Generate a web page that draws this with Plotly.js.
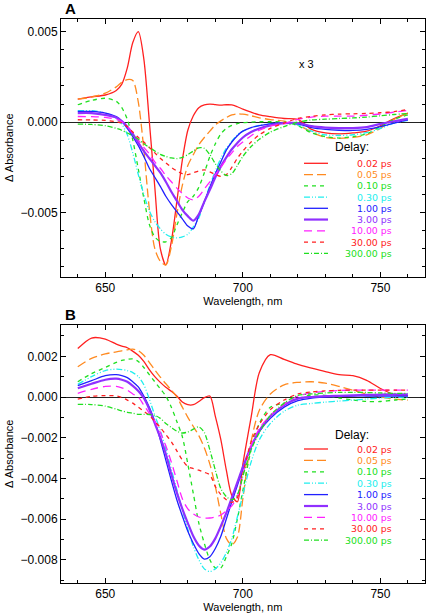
<!DOCTYPE html>
<html><head><meta charset="utf-8">
<script src="https://cdn.plot.ly/plotly-3.0.1.min.js"></script>
<style>html,body{margin:0;padding:0;background:#fff}#chart{width:428px;height:616px}</style>
</head><body><div id="chart"></div>
<script>
// ---------- DATA (ΔA in units of 0.001) ----------
const wavelength = [640,645,650,654,656,658,660,662,664,666,668,670,672,674,676,678,680,682,684,686,688,690,692,694,696,698,700,703,706,710,715,720,725,730,735,740,745,750,755,760];
const delayLabels = ['0.02','0.05','0.10','0.30','1.00','3.00','10.00','30.00','300.00'];

// Panel A
const panelA_0p02  = [1.27,1.40,1.50,1.75,2.10,3.00,4.40,5.00,3.50,0.05,-3.60,-7.00,-7.90,-6.60,-4.40,-2.10,-0.45,0.35,0.80,0.95,1.00,0.97,0.94,0.96,0.95,0.85,0.72,0.55,0.40,0.30,0.20,0.15,-0.40,-0.60,-0.65,-0.60,-0.50,-0.20,0.20,0.50];
const panelA_0p05  = [1.27,1.38,1.60,1.95,2.20,2.35,2.30,1.10,-1.50,-4.80,-7.00,-7.70,-7.90,-6.90,-5.10,-3.50,-2.40,-1.80,-1.25,-0.85,-0.50,-0.15,0.07,0.25,0.40,0.46,0.44,0.35,0.24,0.14,0.06,-0.15,-0.55,-0.85,-0.90,-0.85,-0.70,-0.35,0.15,0.50];
const panelA_0p10  = [0.96,1.20,1.32,1.15,0.80,0.15,-1.00,-2.60,-4.20,-5.65,-6.35,-6.60,-6.62,-6.40,-5.70,-5.00,-4.40,-4.10,-3.60,-2.80,-1.90,-1.20,-0.65,-0.35,-0.18,-0.08,-0.03,0.00,0.02,0.02,0.00,-0.20,-0.60,-0.80,-0.88,-0.80,-0.65,-0.25,0.15,0.40];
const panelA_0p30  = [0.63,0.63,0.50,0.20,-0.10,-0.70,-1.70,-2.90,-4.00,-4.90,-5.50,-5.90,-6.20,-6.35,-6.40,-6.35,-6.20,-5.80,-5.30,-4.40,-3.50,-2.70,-2.00,-1.45,-1.05,-0.70,-0.50,-0.30,-0.18,-0.08,-0.03,-0.15,-0.50,-0.70,-0.74,-0.70,-0.58,-0.35,-0.05,0.10];
const panelA_1p00  = [0.59,0.59,0.50,0.30,0.05,-0.35,-0.80,-1.30,-1.90,-2.55,-3.05,-3.55,-4.10,-4.55,-4.95,-5.35,-5.75,-5.90,-5.15,-4.40,-3.60,-2.85,-2.20,-1.55,-1.10,-0.75,-0.50,-0.30,-0.20,-0.10,-0.04,-0.10,-0.30,-0.40,-0.45,-0.46,-0.40,-0.25,-0.05,0.13];
const panelA_3p00  = [0.50,0.50,0.40,0.25,0.05,-0.25,-0.65,-1.15,-1.60,-2.00,-2.40,-2.80,-3.30,-3.85,-4.35,-4.85,-5.20,-5.45,-5.10,-4.40,-3.75,-3.05,-2.45,-1.95,-1.50,-1.15,-0.85,-0.55,-0.35,-0.18,-0.06,-0.05,-0.22,-0.30,-0.33,-0.33,-0.28,-0.10,0.05,0.18];
const panelA_10p00 = [0.31,0.30,0.26,0.15,0.02,-0.25,-0.60,-1.00,-1.40,-1.75,-2.20,-2.55,-2.95,-3.30,-3.65,-3.95,-4.20,-4.30,-4.10,-3.70,-3.30,-2.90,-2.50,-2.05,-1.70,-1.35,-1.10,-0.75,-0.45,-0.22,-0.08,0.15,0.28,0.33,0.33,0.33,0.38,0.45,0.55,0.65];
const panelA_30p00 = [0.13,0.12,0.10,0.02,-0.05,-0.25,-0.55,-0.85,-1.10,-1.40,-1.70,-2.00,-2.25,-2.50,-2.70,-2.85,-2.90,-2.80,-2.70,-2.64,-2.75,-2.90,-3.00,-2.90,-2.50,-2.00,-1.60,-1.10,-0.70,-0.35,-0.05,0.20,0.32,0.40,0.44,0.46,0.48,0.52,0.58,0.70];
const panelA_300p0 = [-0.11,-0.13,-0.20,-0.35,-0.45,-0.60,-0.75,-0.95,-1.20,-1.40,-1.60,-1.78,-1.90,-1.98,-2.02,-1.95,-1.80,-1.60,-1.42,-1.45,-1.80,-2.30,-2.70,-2.95,-2.85,-2.40,-1.90,-1.35,-0.95,-0.55,-0.25,0.00,0.12,0.16,0.20,0.23,0.28,0.35,0.42,0.48];

// Panel B
const panelB_0p02  = [2.38,2.90,2.85,2.60,2.50,2.42,2.25,2.05,1.75,1.35,1.00,0.72,0.48,0.28,0.05,-0.25,-0.38,-0.38,-0.22,-0.03,0.05,-0.95,-2.10,-3.60,-4.85,-5.15,-3.30,-1.00,1.20,2.08,1.85,1.60,1.42,1.25,1.10,1.05,0.82,0.42,0.12,0.07];
const panelB_0p05  = [1.49,1.90,2.12,2.22,2.27,2.32,2.35,2.28,2.05,1.70,1.33,0.98,0.65,0.35,0.00,-0.50,-1.00,-1.45,-1.90,-2.50,-3.30,-4.40,-5.75,-6.95,-7.27,-6.90,-5.00,-2.20,-0.65,0.15,0.60,0.72,0.75,0.68,0.52,0.33,0.15,0.00,-0.10,-0.15];
const panelB_0p10  = [0.75,1.15,1.45,1.70,1.80,1.85,1.87,1.75,1.45,1.10,0.75,0.40,0.05,-0.50,-1.20,-1.95,-3.30,-4.75,-6.20,-7.20,-8.00,-8.40,-8.40,-7.85,-7.20,-6.00,-4.60,-2.60,-1.30,-0.50,-0.30,-0.08,0.10,0.08,-0.05,-0.15,-0.22,-0.22,-0.15,-0.10];
const panelB_0p30  = [0.62,1.00,1.30,1.37,1.35,1.30,1.20,1.00,0.60,-0.10,-0.90,-1.65,-2.55,-3.55,-4.55,-5.55,-6.50,-7.35,-8.00,-8.45,-8.58,-8.45,-8.15,-7.65,-6.95,-5.90,-4.80,-3.20,-2.10,-1.30,-0.70,-0.40,-0.32,-0.25,-0.20,-0.15,-0.10,-0.05,-0.02,0.00];
const panelB_1p00  = [0.56,0.80,1.05,1.10,1.05,0.95,0.75,0.50,0.05,-0.50,-1.20,-2.10,-3.10,-4.10,-5.05,-5.85,-6.60,-7.20,-7.70,-7.97,-7.85,-7.45,-6.85,-6.00,-5.15,-4.35,-3.55,-2.45,-1.70,-1.05,-0.50,-0.18,-0.05,0.00,0.03,0.05,0.05,0.05,0.05,0.05];
const panelB_3p00  = [0.43,0.65,0.85,0.90,0.85,0.75,0.55,0.30,-0.05,-0.60,-1.30,-2.00,-2.80,-3.80,-4.70,-5.50,-6.20,-6.85,-7.30,-7.50,-7.35,-6.95,-6.35,-5.70,-4.95,-4.20,-3.45,-2.45,-1.65,-0.95,-0.40,-0.08,0.00,0.04,0.06,0.08,0.10,0.12,0.13,0.13];
const panelB_10p00 = [0.18,0.38,0.52,0.52,0.45,0.34,0.15,0.00,-0.40,-0.80,-1.20,-1.75,-2.40,-3.20,-4.10,-5.00,-5.50,-5.75,-5.90,-5.95,-5.95,-5.90,-5.80,-5.60,-5.35,-4.90,-3.80,-2.40,-1.55,-0.90,-0.35,0.05,0.20,0.28,0.32,0.34,0.34,0.34,0.34,0.34];
const panelB_30p00 = [-0.10,0.03,0.07,0.05,-0.03,-0.15,-0.30,-0.50,-0.70,-0.90,-1.20,-1.50,-1.85,-2.20,-2.65,-3.10,-3.42,-3.52,-3.60,-3.70,-3.83,-4.40,-4.80,-5.05,-5.18,-4.95,-3.80,-2.20,-1.35,-0.62,-0.15,0.15,0.25,0.30,0.33,0.34,0.34,0.34,0.34,0.34];
const panelB_300p0 = [-0.36,-0.37,-0.45,-0.60,-0.68,-0.75,-0.80,-0.85,-0.85,-0.86,-0.90,-1.05,-1.30,-1.50,-1.68,-1.77,-1.72,-1.58,-1.47,-1.75,-2.60,-3.60,-4.50,-4.90,-5.05,-4.80,-3.90,-2.60,-1.75,-0.90,-0.30,0.08,0.15,0.20,0.23,0.23,0.22,0.20,0.18,0.18];

const xTickVals = [650,700,750];
const yTickValsA = [-5,0,5];
const yTickTextA = ['\u22120.005','0.000','0.005'];
const yTickValsB = [-8,-6,-4,-2,0,2];
const yTickTextB = ['\u22120.008','\u22120.006','\u22120.004','\u22120.002','0.000','0.002'];

// ---------- STYLE ----------
const colors = ['#ff2020','#ff8a20','#20e020','#20eeee','#2020ff','#9030ff','#ff20ff','#ff2020','#20e020'];
const dashes = ['solid','9px,4px','4px,4px','6px,2px,1px,2px,1px,2px','solid','solid','8px,5px','4px,4px','5px,2px,1px,2px'];
const widths = [1.3,1.3,1.3,1.3,1.3,2.2,1.3,1.3,1.3];

const seriesA = [panelA_0p02,panelA_0p05,panelA_0p10,panelA_0p30,panelA_1p00,panelA_3p00,panelA_10p00,panelA_30p00,panelA_300p0];
const seriesB = [panelB_0p02,panelB_0p05,panelB_0p10,panelB_0p30,panelB_1p00,panelB_3p00,panelB_10p00,panelB_30p00,panelB_300p0];

const W = 428, H = 616;
const px = v => v / W;
const py = v => 1 - v / H;
const font = 'Liberation Sans, Arial, Helvetica, sans-serif';
const keyFont = 'DejaVu Sans, Liberation Sans, sans-serif';

const traces = [];
function addPanel(series, xa, ya) {
  series.forEach((vals, i) => {
    traces.push({
      type: 'scatter', mode: 'lines', x: wavelength, y: vals, xaxis: xa, yaxis: ya,
      name: delayLabels[i] + ' ps', showlegend: false, hoverinfo: 'skip',
      line: {color: colors[i], width: widths[i], dash: dashes[i], shape: 'spline', smoothing: 0.8}
    });
  });
}
addPanel(seriesA, 'x', 'y');
addPanel(seriesB, 'x2', 'y2');

const shapes = [];
const annotations = [];
function addKey(titleY, rowY0, step) {
  annotations.push({xref:'paper', yref:'paper', x:px(352), y:py(titleY), text:'Delay:', showarrow:false,
    xanchor:'center', yanchor:'middle', borderpad:0, font:{family:font, size:12, color:'#000'}});
  delayLabels.forEach((d, i) => {
    const yy = rowY0 + step * i;
    shapes.push({type:'line', xref:'paper', yref:'paper', x0:px(304), x1:px(328), y0:py(yy), y1:py(yy),
      line:{color:colors[i], width:widths[i], dash:dashes[i]}});
    annotations.push({xref:'paper', yref:'paper', x:px(393), y:py(yy), text:d + ' ps', showarrow:false,
      xanchor:'right', yanchor:'middle', borderpad:0, font:{family:keyFont, size:9.4, color:colors[i]}});
  });
}
addKey(147, 163.3, 11.25);
addKey(435, 449, 11.4);

annotations.push({xref:'paper', yref:'paper', x:px(63), y:py(8), text:'<b>A</b>', showarrow:false,
  xanchor:'left', yanchor:'middle', font:{family:font, size:15, color:'#000'}});
annotations.push({xref:'paper', yref:'paper', x:px(63), y:py(314), text:'<b>B</b>', showarrow:false,
  xanchor:'left', yanchor:'middle', font:{family:font, size:15, color:'#000'}});
annotations.push({xref:'paper', yref:'paper', x:px(306), y:py(64), text:'x 3', showarrow:false,
  xanchor:'center', yanchor:'middle', font:{family:font, size:11, color:'#000'}});

const xDomain = [px(61), px(424.7)];
const xCommon = {
  domain: xDomain, range: [633.9, 766.1], tickmode: 'array', tickvals: xTickVals,
  ticks: 'inside', ticklen: 5, tickwidth: 1, tickcolor: '#000',
  minor: {tickmode: 'linear', tick0: 640, dtick: 10, ticks: 'inside', ticklen: 3, tickcolor: '#000'},
  showline: true, linecolor: '#000', linewidth: 1, mirror: 'allticks',
  showgrid: false, zeroline: false,
  tickfont: {family: font, size: 12, color: '#000'},
  title: {text: 'Wavelength, nm', font: {family: font, size: 11, color: '#000'}, standoff: 2}
};
function yCommon(domain, range, tv, tt) {
  return {
    domain: domain, range: range, tickmode: 'array', tickvals: tv, ticktext: tt,
    ticks: 'inside', ticklen: 5, tickwidth: 1, tickcolor: '#000',
    minor: {tickmode: 'linear', tick0: 0, dtick: 1, ticks: 'inside', ticklen: 3, tickcolor: '#000'},
    showline: true, linecolor: '#000', linewidth: 1, mirror: 'allticks',
    showgrid: false, zeroline: true, zerolinecolor: '#222', zerolinewidth: 1,
    tickfont: {family: font, size: 12, color: '#000'},
    title: {text: '\u0394 Absorbance', font: {family: font, size: 11, color: '#000'}, standoff: 4}
  };
}

const layout = {
  width: W, height: H, margin: {l: 0, r: 0, t: 0, b: 0},
  paper_bgcolor: '#fff', plot_bgcolor: '#fff', showlegend: false,
  font: {family: font, color: '#000'},
  xaxis: Object.assign({}, xCommon, {anchor: 'y'}),
  yaxis: Object.assign(yCommon([py(276.7), py(18.7)], [-8.55, 5.72], yTickValsA, yTickTextA), {anchor: 'x'}),
  xaxis2: Object.assign({}, xCommon, {anchor: 'y2'}),
  yaxis2: Object.assign(yCommon([py(582.7), py(325)], [-9.13, 3.54], yTickValsB, yTickTextB), {anchor: 'x2'}),
  shapes: shapes, annotations: annotations
};

Plotly.newPlot('chart', traces, layout, {staticPlot: true, displayModeBar: false});
</script>
</body></html>
